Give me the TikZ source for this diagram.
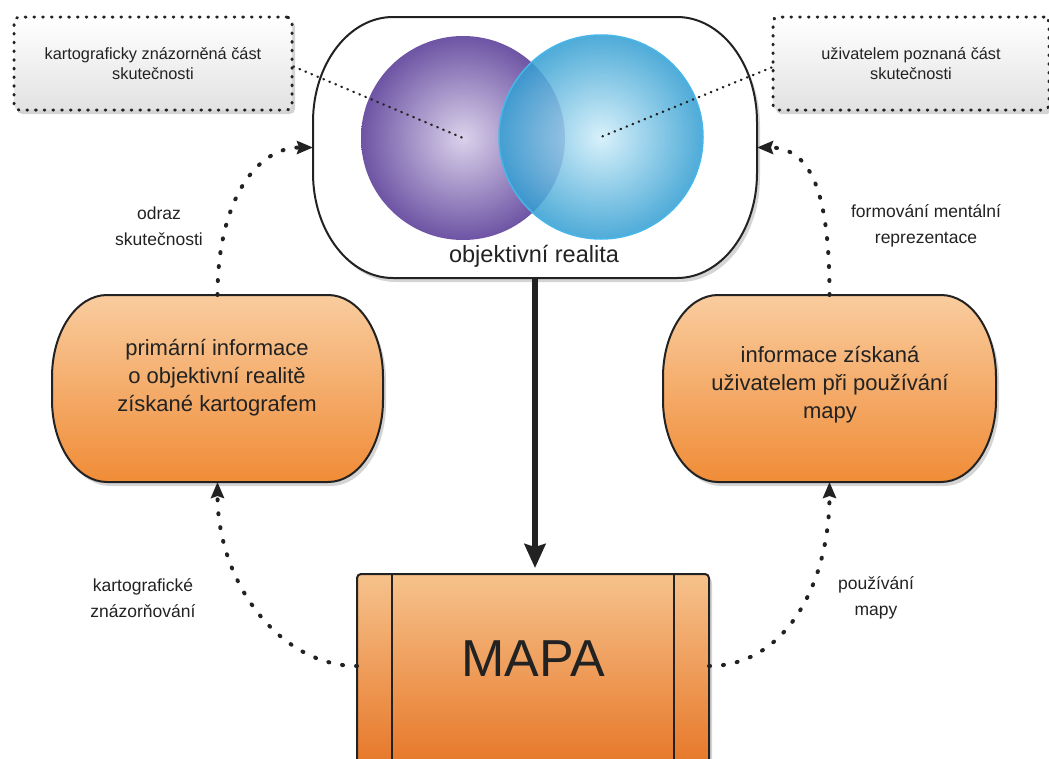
\documentclass[tikz,border=0pt]{standalone}
\usepackage{fontspec}
\setmainfont{Liberation Sans}
\usetikzlibrary{arrows.meta,calc,shadows}

\definecolor{ink}{RGB}{34,34,34}
\definecolor{orangeTop}{RGB}{249,204,158}
\definecolor{orangeBot}{RGB}{240,140,55}
\definecolor{mapTop}{RGB}{246,194,140}
\definecolor{mapBot}{RGB}{230,116,36}
\definecolor{violetIn}{RGB}{218,210,235}
\definecolor{violetOut}{RGB}{110,84,164}
\definecolor{cyanIn}{RGB}{210,239,250}
\definecolor{cyanOut}{RGB}{50,158,210}
\definecolor{cyanEdge}{RGB}{72,182,232}
\definecolor{noteBot}{RGB}{226,226,226}

\newcommand{\fsz}[2]{\fontsize{#1pt}{#2pt}\selectfont}

% capsule outline with elliptical corners around an (empty) node
% #1 path options, #2 node name, #3 x radius, #4 y radius
\newcommand{\capsule}[4]{%
  \path[#1] ($(#2.north west)+(#3,0)$) -- ($(#2.north east)+(-#3,0)$)
    arc[start angle=90,end angle=0,x radius=#3,y radius=#4]
    -- ($(#2.south east)+(0,#4)$)
    arc[start angle=0,end angle=-90,x radius=#3,y radius=#4]
    -- ($(#2.south west)+(#3,0)$)
    arc[start angle=270,end angle=180,x radius=#3,y radius=#4]
    -- ($(#2.north west)+(0,-#4)$)
    arc[start angle=180,end angle=90,x radius=#3,y radius=#4]
    -- cycle;}

\tikzset{
  x=1pt, y=1pt,
  frame/.style={inner sep=0pt, outer sep=0pt, draw=none},
  softshadow/.style={drop shadow={shadow xshift=3pt, shadow yshift=-4pt, opacity=0.28, fill=black!60}},
  notebox/.style={rounded corners=5pt, draw=ink, line width=3pt, line cap=round,
    dash pattern=on 0.8pt off 7.9pt, top color=white, bottom color=noteBot,
    minimum height=93pt, align=center, text=ink, font=\fsz{16.3}{20.5}, softshadow},
  lbl/.style={align=center, text=ink, font=\fsz{17.5}{26.5}},
  boxtext/.style={align=center, text=ink, font=\fsz{22}{28}},
  flow/.style={draw=ink, line width=4pt, line cap=round, dash pattern=on 1pt off 13pt,
    -{Stealth[length=16pt,width=13pt,inset=2pt]}},
  pointer/.style={draw=ink, line width=2.4pt, line cap=round, dash pattern=on 0.5pt off 6pt},
}

\begin{document}
\begin{tikzpicture}
\useasboundingbox (0,0) rectangle (1049,-758);
\clip (0,0) rectangle (1049,-758);

% frames of the main shapes
\node[frame, minimum width=444pt, minimum height=261pt] (pill) at (535,-147.5) {};
\node[frame, minimum width=331pt, minimum height=187pt] (prim) at (217.5,-388.5) {};
\node[frame, minimum width=333pt, minimum height=187pt] (info) at (829.5,-388.5) {};

% objective reality container
\capsule{fill=white, draw=ink, line width=2pt, softshadow}{pill}{80pt}{105pt}

% overlapping spheres
\node[circle, minimum size=204pt, inner sep=0pt, inner color=violetIn, outer color=violetOut] (kz) at (463,-138) {};
\node[circle, minimum size=204pt, inner sep=0pt, inner color=cyanIn, outer color=cyanOut,
      fill opacity=0.86, draw=cyanEdge, line width=1.5pt] (uz) at (601,-137) {};
\node[text=ink, font=\fsz{23.5}{28}] (real) at (534,-256) {objektivní realita};

% side information boxes
\capsule{top color=orangeTop, bottom color=orangeBot, draw=ink, line width=2pt, softshadow}{prim}{55pt}{82pt}
\capsule{top color=orangeTop, bottom color=orangeBot, draw=ink, line width=2pt, softshadow}{info}{55pt}{82pt}
\node[boxtext] (primtext) at (217,-378) {primární informace\\o objektivní realitě\\získané kartografem};
\node[boxtext] (infotext) at (830,-385) {informace získaná\\uživatelem při používání\\mapy};

% the map
\node[frame, minimum width=352pt, minimum height=200pt] (mapa) at (533,-674) {};
\path[rounded corners=4pt, top color=mapTop, bottom color=mapBot, draw=ink, line width=2pt, softshadow]
  (mapa.north west) rectangle (mapa.south east);
\draw[ink, line width=1.6pt] ([xshift=35pt]mapa.north west) -- ([xshift=35pt]mapa.south west);
\draw[ink, line width=1.6pt] ([xshift=-35pt]mapa.north east) -- ([xshift=-35pt]mapa.south east);
\node[text=ink, font=\fsz{52}{60}] (mapatext) at (533,-659) {MAPA};

% annotation boxes
\node[notebox, minimum width=278pt] (nl) at (153,-63.5) {kartograficky znázorněná část\\skutečnosti};
\node[notebox, minimum width=276pt] (nr) at (911,-63.5) {uživatelem poznaná část\\skutečnosti};
\draw[pointer] ([yshift=-3pt]nl.east) -- (kz.center);
\draw[pointer] ([yshift=-4pt]nr.west) -- (uz.center);

% main flow
\draw[ink, line width=6pt, -{Stealth[length=24pt,width=21pt,inset=3pt]}]
  (pill.south) -- ($(pill.south |- mapa.north)+(0,6)$);

% cycle of dotted arrows
\draw[flow] (prim.north) .. controls +(0,92) and +(-58,0) .. (pill.west);
\draw[flow] (info.north) .. controls +(0,92) and +(58,0) .. (pill.east);
\draw[flow] ([yshift=8pt]mapa.west) .. controls +(-77,0) and +(0,-101) .. (prim.south);
\draw[flow] ([yshift=8pt]mapa.east) .. controls +(77,0) and +(0,-101) .. (info.south);

% connector labels
\node[lbl] (l1) at (159,-226) {odraz\\skutečnosti};
\node[lbl] (l2) at (926,-226) {formování mentální\\reprezentace};
\node[lbl] (l3) at (143,-598) {kartografické\\znázorňování};
\node[lbl] (l4) at (876,-598) {používání\\mapy};
\end{tikzpicture}
\end{document}
